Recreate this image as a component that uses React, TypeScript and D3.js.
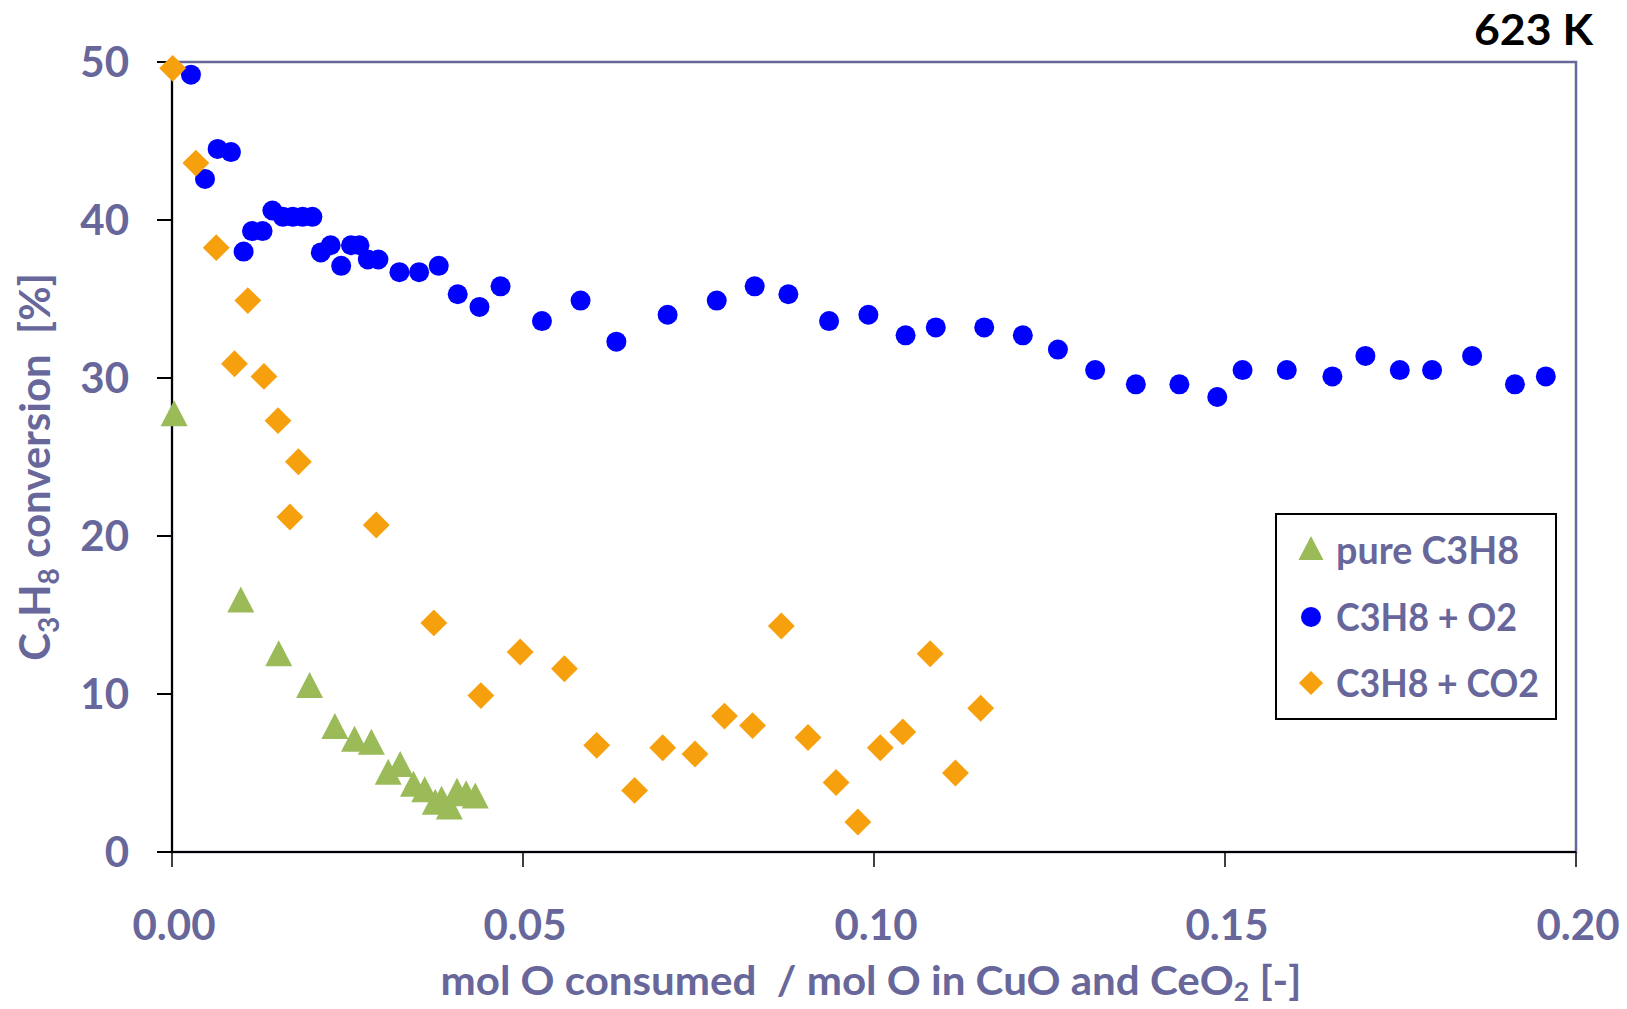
import React from "react";
import * as d3 from "d3";

// ---- data ----
const pureX = [0.0003, 0.0098, 0.0152, 0.0196, 0.0232, 0.026, 0.0284, 0.0308, 0.0325, 0.0344, 0.036, 0.0375, 0.0384, 0.0395, 0.0406, 0.0419, 0.0432];
const pureY = [27.5, 15.7, 12.3, 10.3, 7.7, 6.9, 6.7, 4.8, 5.3, 4.05, 3.7, 2.9, 3.1, 2.6, 3.6, 3.45, 3.3];

const o2X = [0.0027, 0.0047, 0.0065, 0.0084, 0.0102, 0.0114, 0.0129, 0.0143, 0.0158, 0.0172, 0.0186, 0.02, 0.0212, 0.0226, 0.0241, 0.0255, 0.0267, 0.0279, 0.0294, 0.0324, 0.0352, 0.038, 0.0407, 0.0438, 0.0468, 0.0527, 0.0582, 0.0633, 0.0706, 0.0776, 0.083, 0.0878, 0.0936, 0.0992, 0.1045, 0.1088, 0.1157, 0.1212, 0.1262, 0.1315, 0.1373, 0.1435, 0.1489, 0.1525, 0.1588, 0.1653, 0.17, 0.1749, 0.1795, 0.1852, 0.1913, 0.1957];
const o2Y = [49.2, 42.6, 44.5, 44.3, 38.0, 39.3, 39.3, 40.6, 40.2, 40.2, 40.2, 40.2, 37.95, 38.4, 37.1, 38.4, 38.4, 37.5, 37.5, 36.7, 36.7, 37.1, 35.3, 34.5, 35.8, 33.6, 34.9, 32.3, 34.0, 34.9, 35.8, 35.3, 33.6, 34.0, 32.7, 33.2, 33.2, 32.7, 31.8, 30.5, 29.6, 29.6, 28.8, 30.5, 30.5, 30.1, 31.4, 30.5, 30.5, 31.4, 29.6, 30.1];

const co2X = [0.0001, 0.0034, 0.0063, 0.0108, 0.0089, 0.0131, 0.0151, 0.018, 0.0168, 0.0291, 0.0373, 0.044, 0.0496, 0.0559, 0.0605, 0.0659, 0.0699, 0.0745, 0.0787, 0.0827, 0.0868, 0.0906, 0.0946, 0.0977, 0.1009, 0.1041, 0.108, 0.1116, 0.1152];
const co2Y = [49.6, 43.6, 38.25, 34.9, 30.9, 30.1, 27.3, 24.7, 21.2, 20.7, 14.5, 9.9, 12.66, 11.6, 6.75, 3.9, 6.6, 6.2, 8.6, 8.0, 14.3, 7.25, 4.4, 1.9, 6.6, 7.6, 12.55, 5.0, 9.1];

const xTicks = [0, 0.05, 0.1, 0.15, 0.2];
const yTicks = [0, 10, 20, 30, 40, 50];
const seriesNames = ["pure C3H8", "C3H8 + O2", "C3H8 + CO2"];

// ---- layout / style ----
const LEGEND_TEXT_W = [183, 181, 203];
const SLATE = "#67679B";
const BLUE = "#0000FF";
const ORANGE = "#F7A00E";
const GREEN = "#9BBB59";
const FONT = "Lato, 'Open Sans', sans-serif";

function trianglePath(cx: number, cy: number, w = 27, h = 26) {
  const p = d3.path();
  p.moveTo(cx, cy - (2 * h) / 3);
  p.lineTo(cx + w / 2, cy + h / 3);
  p.lineTo(cx - w / 2, cy + h / 3);
  p.closePath();
  return p.toString();
}

const diamondSym = d3.symbol(d3.symbolSquare, 19 * 19);
const circleSym = d3.symbol(d3.symbolCircle, Math.PI * 10 * 10);

export default function App() {
  const W = 1627;
  const H = 1009;
  const x = d3.scaleLinear().domain([0, 0.2]).range([172, 1576]);
  const y = d3.scaleLinear().domain([0, 50]).range([852, 62]);
  const [x0, x1] = x.range();
  const [y0, y1] = y.range();

  const legendX = 1276;
  const legendY = 514;
  const rowY = [550, 617, 683];

  return (
    <svg
      width={W}
      height={H}
      style={{ position: "absolute", left: 0, top: 0, background: "#fff" }}
      fontFamily={FONT}
    >
      <rect x={0} y={0} width={W} height={H} fill="#fff" />
      {/* plot border */}
      <rect x={x0} y={y1} width={x1 - x0} height={y0 - y1} fill="none" stroke={SLATE} strokeWidth={2.5} />
      {/* axes */}
      <line x1={x0} y1={y0} x2={x1} y2={y0} stroke="#000" strokeWidth={2} />
      <line x1={x0} y1={y0 + 1} x2={x0} y2={y1} stroke="#000" strokeWidth={2} />
      {yTicks.map((t) => (
        <g key={"yt" + t}>
          <line x1={x0 - 15} x2={x0} y1={y(t)} y2={y(t)} stroke="#000" strokeWidth={2} />
          <text x={129} y={y(t) + 15} textAnchor="end" fontSize={42} fontWeight={700} fill={SLATE}>
            {t}
          </text>
        </g>
      ))}
      {xTicks.map((t) => (
        <g key={"xt" + t}>
          <line x1={x(t)} x2={x(t)} y1={y0} y2={y0 + 15} stroke="#000" strokeWidth={1.5} />
          <text x={x(t) + 2} y={940} textAnchor="middle" fontSize={42} fontWeight={700} fill={SLATE}>
            {d3.format(".2f")(t)}
          </text>
        </g>
      ))}

      {/* axis titles */}
      <text
        x={871}
        y={995}
        textAnchor="middle"
        fontSize={41}
        fontWeight={700}
        fill={SLATE}
        textLength={861}
        lengthAdjust="spacingAndGlyphs"
        style={{ whiteSpace: "pre" }}
      >
        {"mol O consumed  / mol O in CuO and CeO"}
        <tspan fontSize={26} dy={6}>2</tspan>
        <tspan dy={-6}>{" [-]"}</tspan>
      </text>
      <text
        transform="translate(50,467) rotate(-90)"
        textAnchor="middle"
        fontSize={42}
        fontWeight={700}
        fill={SLATE}
        style={{ whiteSpace: "pre" }}
      >
        C<tspan fontSize={28} dy={9}>3</tspan>
        <tspan dy={-9}>H</tspan>
        <tspan fontSize={28} dy={9}>8</tspan>
        <tspan dy={-9}>{" conversion  [%]"}</tspan>
      </text>

      {/* title */}
      <text x={1593} y={45} textAnchor="end" fontSize={42} fontWeight={700} fill="#000" textLength={119} lengthAdjust="spacingAndGlyphs" style={{ whiteSpace: "pre" }}>
        623 K
      </text>

      {/* series */}
      <g>
        {pureX.map((v, i) => (
          <path key={"p" + i} d={trianglePath(x(v), y(pureY[i]))} fill={GREEN} />
        ))}
      </g>
      <g>
        {o2X.map((v, i) => (
          <path key={"o" + i} d={circleSym() as string} transform={`translate(${x(v)},${y(o2Y[i])})`} fill={BLUE} />
        ))}
      </g>
      <g>
        {co2X.map((v, i) => (
          <path
            key={"c" + i}
            d={diamondSym() as string}
            transform={`translate(${x(v)},${y(co2Y[i])}) rotate(45)`}
            fill={ORANGE}
          />
        ))}
      </g>

      {/* legend */}
      <rect x={legendX} y={legendY} width={280} height={205} fill="#fff" stroke="#000" strokeWidth={2} />
      <path d={trianglePath(1311, rowY[0] + 2, 25, 24)} fill={GREEN} />
      <path d={circleSym() as string} transform={`translate(1311,${rowY[1]})`} fill={BLUE} />
      <path d={diamondSym() as string} transform={`translate(1311,${rowY[2]}) rotate(45) scale(0.9)`} fill={ORANGE} />
      {seriesNames.map((n, i) => (
        <text
          key={n}
          x={1336}
          y={rowY[i] + 13.5}
          fontSize={38}
          fontWeight={700}
          fill={SLATE}
          textLength={LEGEND_TEXT_W[i]}
          lengthAdjust="spacingAndGlyphs"
          style={{ whiteSpace: "pre" }}
        >
          {n}
        </text>
      ))}
    </svg>
  );
}
